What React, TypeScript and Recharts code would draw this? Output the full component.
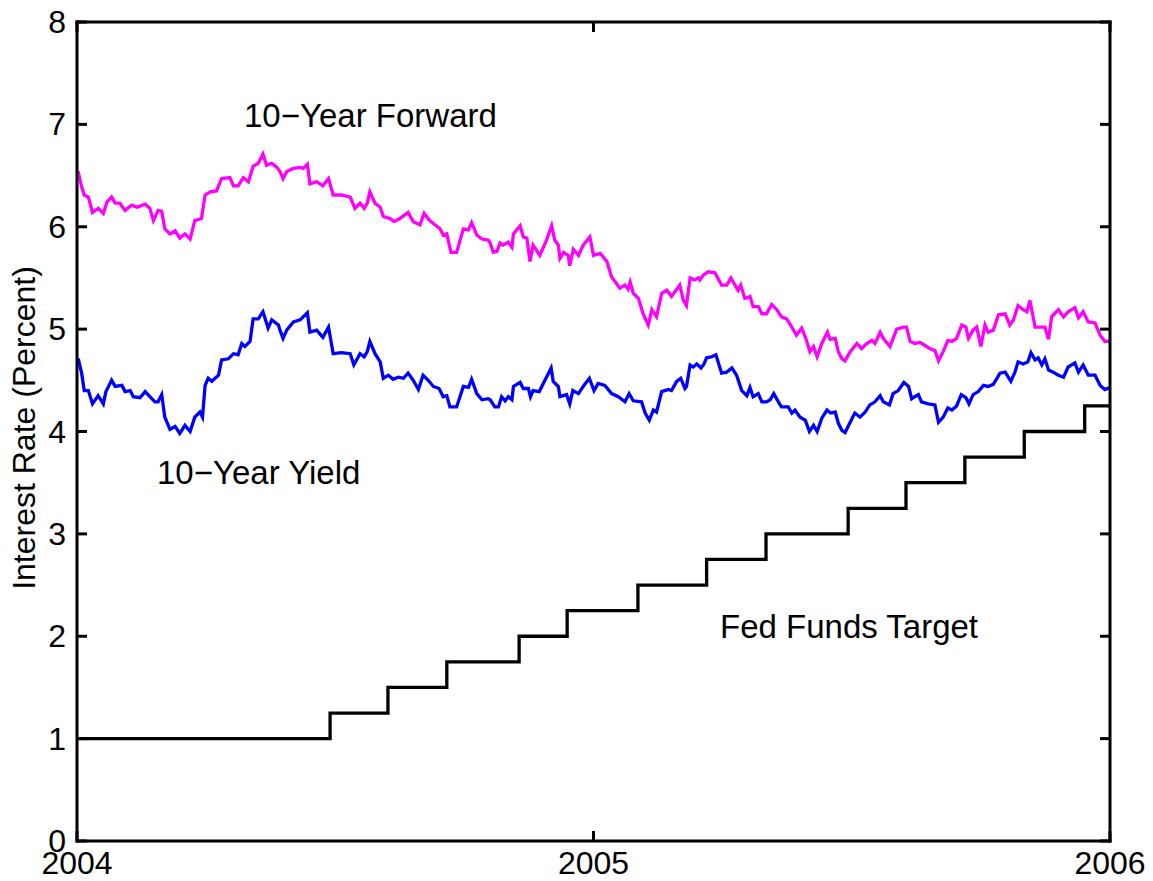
import { LineChart, Line, XAxis, YAxis } from "recharts";

// dates are decimal years, rates in percent
const forwardRate: [number, number][] = [
  [2004.0, 6.51], [2004.003, 6.52], [2004.009, 6.39], [2004.014, 6.31], [2004.022, 6.29], [2004.03, 6.14],
  [2004.041, 6.18], [2004.051, 6.13], [2004.058, 6.24], [2004.067, 6.29], [2004.074, 6.23], [2004.083, 6.23],
  [2004.093, 6.16], [2004.106, 6.21], [2004.116, 6.19], [2004.132, 6.22], [2004.141, 6.18], [2004.148, 6.06],
  [2004.157, 6.16], [2004.164, 6.15], [2004.17, 5.98], [2004.18, 5.93], [2004.19, 5.96], [2004.199, 5.89],
  [2004.209, 5.93], [2004.219, 5.88], [2004.228, 6.06], [2004.241, 6.08], [2004.248, 6.31], [2004.258, 6.34],
  [2004.27, 6.35], [2004.28, 6.47], [2004.296, 6.48], [2004.303, 6.4], [2004.312, 6.4], [2004.322, 6.48],
  [2004.332, 6.44], [2004.341, 6.59], [2004.351, 6.62], [2004.36, 6.71], [2004.367, 6.6], [2004.377, 6.62],
  [2004.387, 6.58], [2004.393, 6.54], [2004.399, 6.47], [2004.406, 6.54], [2004.419, 6.57], [2004.432, 6.58],
  [2004.438, 6.57], [2004.446, 6.61], [2004.451, 6.42], [2004.464, 6.44], [2004.476, 6.4], [2004.487, 6.47],
  [2004.496, 6.31], [2004.512, 6.31], [2004.529, 6.29], [2004.538, 6.18], [2004.548, 6.23], [2004.556, 6.18],
  [2004.562, 6.23], [2004.567, 6.34], [2004.577, 6.23], [2004.587, 6.19], [2004.593, 6.1], [2004.606, 6.08],
  [2004.614, 6.05], [2004.625, 6.08], [2004.641, 6.14], [2004.651, 6.05], [2004.664, 6.02], [2004.672, 6.13],
  [2004.683, 6.06], [2004.693, 6.02], [2004.703, 5.98], [2004.709, 5.92], [2004.716, 5.93], [2004.724, 5.75],
  [2004.735, 5.75], [2004.748, 5.98], [2004.758, 5.97], [2004.764, 6.04], [2004.774, 5.92], [2004.784, 5.88],
  [2004.796, 5.87], [2004.8, 5.84], [2004.806, 5.75], [2004.813, 5.76], [2004.819, 5.84], [2004.825, 5.82],
  [2004.835, 5.85], [2004.842, 5.8], [2004.845, 5.93], [2004.858, 6.01], [2004.864, 5.9], [2004.871, 5.89],
  [2004.877, 5.66], [2004.883, 5.82], [2004.896, 5.72], [2004.909, 5.87], [2004.919, 6.01], [2004.925, 5.87],
  [2004.932, 5.82], [2004.935, 5.69], [2004.942, 5.75], [2004.951, 5.72], [2004.954, 5.62], [2004.961, 5.78],
  [2004.971, 5.72], [2004.98, 5.82], [2004.993, 5.9], [2005.0, 5.72], [2005.013, 5.74], [2005.026, 5.66],
  [2005.035, 5.51], [2005.051, 5.4], [2005.061, 5.43], [2005.067, 5.39], [2005.071, 5.46], [2005.077, 5.35],
  [2005.087, 5.3], [2005.096, 5.15], [2005.106, 5.04], [2005.113, 5.19], [2005.122, 5.12], [2005.132, 5.35],
  [2005.142, 5.38], [2005.151, 5.32], [2005.167, 5.43], [2005.174, 5.28], [2005.18, 5.23], [2005.187, 5.5],
  [2005.196, 5.48], [2005.203, 5.5], [2005.206, 5.48], [2005.213, 5.53], [2005.222, 5.56], [2005.235, 5.55],
  [2005.248, 5.43], [2005.258, 5.43], [2005.266, 5.5], [2005.274, 5.43], [2005.28, 5.38], [2005.285, 5.43],
  [2005.293, 5.3], [2005.303, 5.32], [2005.309, 5.22], [2005.319, 5.22], [2005.326, 5.15], [2005.335, 5.15],
  [2005.345, 5.24], [2005.355, 5.19], [2005.364, 5.12], [2005.374, 5.1], [2005.384, 5.02], [2005.393, 4.94],
  [2005.403, 5.01], [2005.411, 4.91], [2005.419, 4.78], [2005.426, 4.83], [2005.433, 4.73], [2005.442, 4.86],
  [2005.453, 4.97], [2005.458, 4.9], [2005.468, 4.91], [2005.474, 4.78], [2005.481, 4.71], [2005.487, 4.69],
  [2005.497, 4.78], [2005.51, 4.86], [2005.519, 4.81], [2005.529, 4.86], [2005.539, 4.89], [2005.545, 4.86],
  [2005.555, 4.97], [2005.561, 4.91], [2005.574, 4.83], [2005.587, 5.0], [2005.6, 5.02], [2005.606, 5.02],
  [2005.613, 4.88], [2005.622, 4.86], [2005.632, 4.87], [2005.642, 4.84], [2005.651, 4.81], [2005.661, 4.79],
  [2005.668, 4.69], [2005.677, 4.78], [2005.686, 4.89], [2005.694, 4.88], [2005.703, 4.91], [2005.713, 5.04],
  [2005.721, 5.02], [2005.726, 4.91], [2005.735, 4.99], [2005.742, 5.02], [2005.75, 4.83], [2005.758, 5.04],
  [2005.764, 4.97], [2005.774, 4.99], [2005.784, 5.14], [2005.797, 5.15], [2005.806, 5.04], [2005.813, 5.09],
  [2005.822, 5.23], [2005.832, 5.19], [2005.839, 5.17], [2005.845, 5.28], [2005.855, 5.02], [2005.864, 5.02],
  [2005.874, 5.02], [2005.881, 4.9], [2005.887, 5.12], [2005.9, 5.19], [2005.91, 5.12], [2005.919, 5.17],
  [2005.932, 5.21], [2005.939, 5.11], [2005.948, 5.17], [2005.958, 5.07], [2005.971, 5.06], [2005.981, 4.94],
  [2005.99, 4.88], [2005.998, 4.88],
];

const yieldRate: [number, number][] = [
  [2004.0, 4.7], [2004.003, 4.7], [2004.009, 4.57], [2004.014, 4.4], [2004.022, 4.4], [2004.03, 4.27],
  [2004.041, 4.35], [2004.051, 4.27], [2004.056, 4.39], [2004.067, 4.5], [2004.074, 4.44], [2004.087, 4.45],
  [2004.093, 4.39], [2004.103, 4.4], [2004.109, 4.34], [2004.122, 4.33], [2004.132, 4.39], [2004.141, 4.34],
  [2004.151, 4.29], [2004.157, 4.29], [2004.164, 4.36], [2004.17, 4.14], [2004.18, 4.02], [2004.19, 4.05],
  [2004.199, 3.98], [2004.209, 4.06], [2004.219, 4.0], [2004.228, 4.14], [2004.238, 4.19], [2004.243, 4.14],
  [2004.248, 4.45], [2004.254, 4.52], [2004.261, 4.49], [2004.274, 4.55], [2004.28, 4.7], [2004.293, 4.71],
  [2004.303, 4.76], [2004.312, 4.75], [2004.319, 4.86], [2004.325, 4.83], [2004.335, 4.88], [2004.341, 5.1],
  [2004.351, 5.1], [2004.36, 5.17], [2004.37, 5.01], [2004.377, 5.09], [2004.39, 5.04], [2004.393, 4.99],
  [2004.399, 4.91], [2004.406, 4.99], [2004.419, 5.07], [2004.432, 5.09], [2004.438, 5.12], [2004.446, 5.16],
  [2004.451, 4.97], [2004.464, 4.99], [2004.476, 4.92], [2004.487, 5.02], [2004.496, 4.76], [2004.512, 4.77],
  [2004.529, 4.76], [2004.536, 4.65], [2004.548, 4.76], [2004.556, 4.73], [2004.562, 4.78], [2004.567, 4.88],
  [2004.577, 4.76], [2004.587, 4.68], [2004.593, 4.52], [2004.603, 4.55], [2004.612, 4.51], [2004.622, 4.53],
  [2004.632, 4.52], [2004.641, 4.57], [2004.651, 4.5], [2004.661, 4.41], [2004.67, 4.55], [2004.68, 4.5],
  [2004.69, 4.44], [2004.701, 4.42], [2004.709, 4.34], [2004.716, 4.35], [2004.722, 4.24], [2004.735, 4.24],
  [2004.748, 4.44], [2004.758, 4.43], [2004.764, 4.51], [2004.774, 4.37], [2004.784, 4.31], [2004.796, 4.32],
  [2004.8, 4.31], [2004.809, 4.24], [2004.816, 4.24], [2004.822, 4.34], [2004.829, 4.3], [2004.835, 4.34],
  [2004.842, 4.31], [2004.845, 4.44], [2004.858, 4.48], [2004.864, 4.42], [2004.874, 4.42], [2004.878, 4.34],
  [2004.883, 4.4], [2004.895, 4.39], [2004.906, 4.5], [2004.918, 4.62], [2004.922, 4.49], [2004.932, 4.44],
  [2004.935, 4.34], [2004.948, 4.36], [2004.954, 4.27], [2004.96, 4.4], [2004.971, 4.37], [2004.98, 4.44],
  [2004.992, 4.52], [2005.001, 4.4], [2005.009, 4.47], [2005.022, 4.45], [2005.035, 4.37], [2005.048, 4.34],
  [2005.061, 4.29], [2005.069, 4.37], [2005.077, 4.3], [2005.093, 4.29], [2005.1, 4.18], [2005.108, 4.11],
  [2005.116, 4.21], [2005.122, 4.19], [2005.132, 4.39], [2005.145, 4.41], [2005.151, 4.4], [2005.161, 4.49],
  [2005.169, 4.52], [2005.177, 4.42], [2005.18, 4.44], [2005.187, 4.65], [2005.193, 4.63], [2005.2, 4.66],
  [2005.208, 4.62], [2005.214, 4.66], [2005.219, 4.72], [2005.229, 4.73], [2005.237, 4.75], [2005.248, 4.57],
  [2005.258, 4.58], [2005.268, 4.62], [2005.277, 4.55], [2005.287, 4.4], [2005.297, 4.35], [2005.303, 4.43],
  [2005.309, 4.34], [2005.319, 4.37], [2005.326, 4.29], [2005.335, 4.29], [2005.342, 4.31], [2005.349, 4.37],
  [2005.358, 4.29], [2005.364, 4.24], [2005.377, 4.24], [2005.384, 4.18], [2005.39, 4.21], [2005.4, 4.14],
  [2005.41, 4.11], [2005.418, 4.0], [2005.426, 4.06], [2005.433, 4.0], [2005.442, 4.13], [2005.452, 4.21],
  [2005.459, 4.18], [2005.468, 4.19], [2005.474, 4.08], [2005.481, 4.01], [2005.487, 3.99], [2005.497, 4.09],
  [2005.506, 4.18], [2005.516, 4.14], [2005.526, 4.19], [2005.535, 4.26], [2005.545, 4.29], [2005.555, 4.35],
  [2005.561, 4.29], [2005.573, 4.26], [2005.58, 4.37], [2005.59, 4.4], [2005.601, 4.48], [2005.61, 4.44],
  [2005.616, 4.32], [2005.622, 4.34], [2005.629, 4.36], [2005.635, 4.29], [2005.648, 4.27], [2005.661, 4.26],
  [2005.668, 4.09], [2005.677, 4.14], [2005.686, 4.23], [2005.694, 4.21], [2005.703, 4.25], [2005.712, 4.36],
  [2005.721, 4.33], [2005.727, 4.27], [2005.735, 4.36], [2005.745, 4.39], [2005.755, 4.45], [2005.764, 4.44],
  [2005.774, 4.46], [2005.787, 4.57], [2005.797, 4.58], [2005.808, 4.49], [2005.816, 4.58], [2005.822, 4.68],
  [2005.832, 4.66], [2005.841, 4.68], [2005.847, 4.77], [2005.855, 4.7], [2005.861, 4.72], [2005.868, 4.65],
  [2005.874, 4.71], [2005.881, 4.6], [2005.89, 4.58], [2005.9, 4.55], [2005.91, 4.53], [2005.919, 4.63],
  [2005.932, 4.67], [2005.939, 4.58], [2005.948, 4.65], [2005.958, 4.55], [2005.971, 4.55], [2005.981, 4.45],
  [2005.99, 4.41], [2006.0, 4.43],
];

// target changes (date of change, new level)
const fedFundsTarget: [number, number][] = [
  [2004.0, 1.0], [2004.49, 1.25], [2004.602, 1.5], [2004.716, 1.75], [2004.856, 2.0], [2004.949, 2.25],
  [2005.086, 2.5], [2005.219, 2.75], [2005.334, 3.0], [2005.493, 3.25], [2005.605, 3.5], [2005.719, 3.75],
  [2005.834, 4.0], [2005.951, 4.25], [2006.0, 4.25],
];

const yearTicks = [2004, 2005, 2006];
const rateTicks = [0, 1, 2, 3, 4, 5, 6, 7, 8];

const FONT = "'Liberation Sans', Arial, Helvetica, sans-serif";

const toRows = (pts: [number, number][]) => pts.map(([t, v]) => ({ t, v }));

const YTick = (props: any) => (
  <text x={props.x} y={props.y + 11} textAnchor="end" fontFamily={FONT} fontSize={32} fill="#000">
    {props.payload.value}
  </text>
);

const XTick = (props: any) => (
  <text x={props.x} y={props.y + 33} textAnchor="middle" fontFamily={FONT} fontSize={32} fill="#000">
    {props.payload.value}
  </text>
);

const NoTick = () => <g />;

const axisLine = { stroke: "#000", strokeWidth: 3, strokeLinecap: "square" as const };
const tickLine = { stroke: "#000", strokeWidth: 3 };

export default function App() {
  return (
    <div style={{ position: "relative", width: 1153, height: 881, background: "#fff" }}>
      <style>{"html,body{margin:0;padding:0;overflow:hidden;background:#fff}"}</style>
      <LineChart width={1153} height={881} margin={{ top: 21, right: 42, bottom: 10, left: 17 }}>
        <XAxis
          xAxisId="b"
          type="number"
          dataKey="t"
          domain={[2004, 2006]}
          ticks={yearTicks}
          allowDataOverflow
          height={30}
          axisLine={axisLine}
          tickLine={tickLine}
          tickSize={-10}
          tickMargin={10}
          tick={XTick}
          interval={0}
        />
        <XAxis
          xAxisId="top"
          orientation="top"
          type="number"
          dataKey="t"
          domain={[2004, 2006]}
          ticks={yearTicks}
          allowDataOverflow
          height={1}
          axisLine={axisLine}
          tickLine={tickLine}
          tickSize={-10}
          tick={NoTick}
          interval={0}
        />
        <YAxis
          yAxisId="l"
          type="number"
          domain={[0, 8]}
          ticks={rateTicks}
          allowDataOverflow
          width={60}
          axisLine={axisLine}
          tickLine={tickLine}
          tickSize={-10}
          tickMargin={21}
          tick={YTick}
          interval={0}
        />
        <YAxis
          yAxisId="r"
          orientation="right"
          type="number"
          domain={[0, 8]}
          ticks={rateTicks}
          allowDataOverflow
          width={1}
          axisLine={axisLine}
          tickLine={tickLine}
          tickSize={-10}
          tick={NoTick}
          interval={0}
        />
        <Line
          xAxisId="b"
          yAxisId="l"
          data={toRows(fedFundsTarget)}
          dataKey="v"
          type="stepAfter"
          stroke="#000"
          strokeWidth={3.3}
          dot={false}
          isAnimationActive={false}
        />
        <Line
          xAxisId="b"
          yAxisId="l"
          data={toRows(yieldRate)}
          dataKey="v"
          type="linear"
          stroke="#0000ff"
          strokeWidth={3.3}
          dot={false}
          isAnimationActive={false}
        />
        <Line
          xAxisId="b"
          yAxisId="l"
          data={toRows(forwardRate)}
          dataKey="v"
          type="linear"
          stroke="#ff00ff"
          strokeWidth={3.3}
          dot={false}
          isAnimationActive={false}
        />
      </LineChart>
      <svg
        width={1153}
        height={881}
        style={{ position: "absolute", left: 0, top: 0, pointerEvents: "none" }}
        fontFamily={FONT}
        fill="#000"
      >
        <text x={244} y={126.5} fontSize={33}>10−Year Forward</text>
        <text x={157} y={484} fontSize={33}>10−Year Yield</text>
        <text x={720} y={638} fontSize={33}>Fed Funds Target</text>
        <text transform="translate(35,428) rotate(-90)" textAnchor="middle" fontSize={32}>
          Interest Rate (Percent)
        </text>
      </svg>
    </div>
  );
}
